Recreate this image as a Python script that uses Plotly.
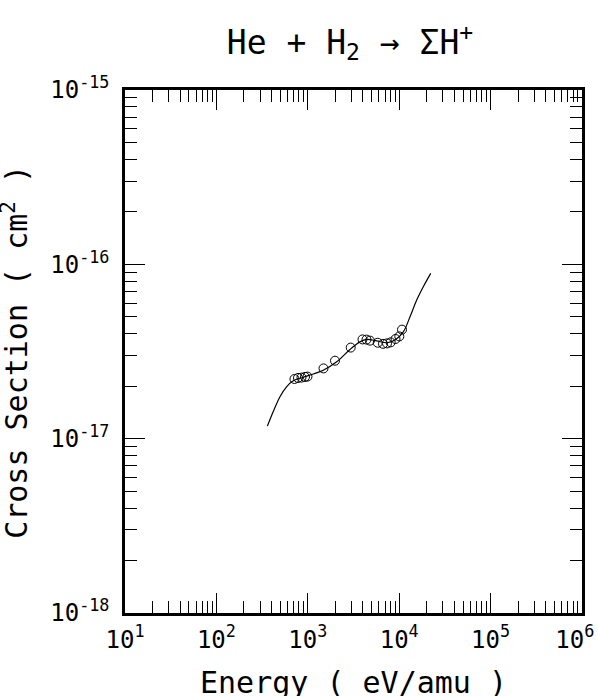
import plotly.graph_objects as go

# Measured data points (open circles)
energy_pts = [715, 781, 853, 932, 992, 1485, 1984, 2947, 3967, 4387, 4792,
              5819, 6649, 7356, 8072, 9109, 10025, 10730]
sigma_pts = [2.20e-17, 2.23e-17, 2.24e-17, 2.26e-17, 2.27e-17, 2.53e-17, 2.80e-17,
             3.33e-17, 3.71e-17, 3.70e-17, 3.65e-17, 3.55e-17, 3.50e-17, 3.52e-17,
             3.57e-17, 3.73e-17, 3.86e-17, 4.22e-17]

# Recommended fit curve
energy_fit = [361, 419, 496, 588, 694, 893, 1149, 1478, 2071, 2895, 3725, 4410,
              5673, 7300, 8995, 11090, 13130, 15540, 18350, 22120]
sigma_fit = [1.18e-17, 1.43e-17, 1.74e-17, 1.99e-17, 2.15e-17, 2.25e-17, 2.35e-17,
             2.47e-17, 2.76e-17, 3.25e-17, 3.59e-17, 3.71e-17, 3.64e-17, 3.55e-17,
             3.68e-17, 4.10e-17, 5.00e-17, 6.24e-17, 7.44e-17, 8.88e-17]

x_tickvals = [1e1, 1e2, 1e3, 1e4, 1e5, 1e6]
x_ticktext = ["10<sup>1</sup>", "10<sup>2</sup>", "10<sup>3</sup>",
              "10<sup>4</sup>", "10<sup>5</sup>", "10<sup>6</sup>\u00a0"]
y_tickvals = [1e-18, 1e-17, 1e-16, 1e-15]
y_ticktext = ["10<sup>-18</sup>", "10<sup>-17</sup>", "10<sup>-16</sup>", "10<sup>-15</sup>"]

title_text = "He + H<sub>2</sub> → ΣH<sup>+</sup>"
x_title = "Energy ( eV/amu )"
y_title = "Cross Section ( cm<sup>2</sup> )"

FONT = "DejaVu Sans Mono"

x_minor = [m * 10 ** d for d in range(1, 6) for m in range(2, 10)]
y_minor = [m * 10.0 ** d for d in range(-18, -15) for m in range(2, 10)]

fig = go.Figure()
fig.add_trace(go.Scatter(x=energy_fit, y=sigma_fit, mode="lines",
                         line=dict(color="black", width=1.2, shape="spline"),
                         showlegend=False))
fig.add_trace(go.Scatter(x=energy_pts, y=sigma_pts, mode="markers",
                         marker=dict(symbol="circle-open", size=9,
                                     color="black", line=dict(width=1)),
                         showlegend=False))

axis_common = dict(showgrid=False, zeroline=False, showline=True,
                   linecolor="black", linewidth=2.5, mirror="allticks",
                   ticks="inside", ticklen=20, tickwidth=1, tickcolor="black",
                   tickfont=dict(family=FONT, size=24, color="black"),
                   ticklabeloverflow="allow")

fig.update_xaxes(type="log", range=[1, 6], tickmode="array",
                 tickvals=x_tickvals, ticktext=x_ticktext,
                 minor=dict(tickmode="array", tickvals=x_minor, ticks="inside",
                            ticklen=12, tickwidth=1, tickcolor="black"),
                 ticklabelstandoff=3,
                 **axis_common)
fig.update_yaxes(type="log", range=[-18, -15], tickmode="array",
                 tickvals=y_tickvals, ticktext=y_ticktext,
                 minor=dict(tickmode="array", tickvals=y_minor, ticks="inside",
                            ticklen=12, tickwidth=1, tickcolor="black"),
                 ticklabelstandoff=8,
                 **axis_common)

fig.update_layout(
    width=598, height=696,
    margin=dict(l=125, r=16, t=90, b=83, autoexpand=False),
    paper_bgcolor="white", plot_bgcolor="white",
    title=dict(text=title_text, x=350 / 598, xanchor="center",
               y=1 - 42 / 696, yanchor="middle", yref="container",
               font=dict(family=FONT, size=33, color="black")),
    annotations=[
        dict(text=x_title, xref="paper", yref="paper", x=0.5, y=-0.132,
             xanchor="center", yanchor="middle", showarrow=False,
             font=dict(family=FONT, size=30, color="black")),
        dict(text=y_title, xref="paper", yref="paper", x=-0.240, y=0.5,
             xanchor="center", yanchor="middle", showarrow=False, textangle=-90,
             font=dict(family=FONT, size=30, color="black")),
    ],
)

# Remove the default 8px page margin so the figure fills the window exactly.
fig.write_html("out.html",
               config={"displayModeBar": False},
               post_script="document.body.style.margin='0';"
                           "document.body.style.overflow='hidden';")
